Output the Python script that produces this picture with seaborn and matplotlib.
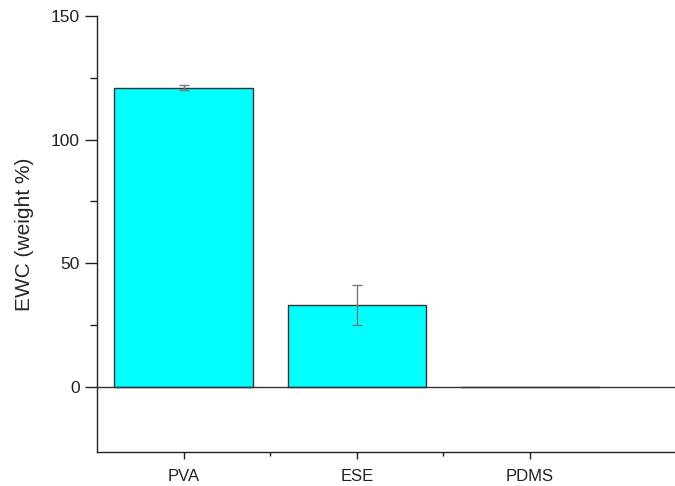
import numpy as np
import pandas as pd
import matplotlib
matplotlib.use("Agg")
import matplotlib.pyplot as plt
import seaborn as sns
from matplotlib.ticker import MultipleLocator, FixedLocator

# data
materials = ["PVA", "ESE", "PDMS"]
ewc = [121.0, 33.0, 0.0]
ewc_err = [1.0, 8.0, 0.0]

df = pd.DataFrame({"material": materials, "ewc": ewc, "err": ewc_err})

sns.set_style("ticks")
plt.rcParams["font.family"] = ["Liberation Sans", "DejaVu Sans"]

fig = plt.figure(figsize=(6.75, 4.86), dpi=100)
ax = fig.add_axes([0.1437, 0.07, 0.857, 0.897])

sns.barplot(data=df, x="material", y="ewc", color="#00ffff", saturation=1,
            edgecolor="#333333", linewidth=1.0, width=0.8, errorbar=None, ax=ax)

# error bars (skip the zero one)
xs = np.arange(len(materials))
mask = (df["err"] > 0).to_numpy()
ax.errorbar(xs[mask], df["ewc"][mask], yerr=df["err"][mask], fmt="none",
            ecolor="#777777", elinewidth=1.0, capsize=3.5, capthick=1.0, zorder=5)

ax.axhline(0, color="#333333", lw=1.0, zorder=4)

ax.set_ylim(-26.5, 150)
ax.set_xlim(-0.5, 2.84)
ax.yaxis.set_major_locator(MultipleLocator(50))
ax.yaxis.set_minor_locator(FixedLocator([25, 75, 125]))
ax.xaxis.set_minor_locator(FixedLocator([0.5, 1.5]))

ax.set_xlabel("")
ax.set_ylabel("EWC (weight %)", fontsize=15, labelpad=12)
ax.tick_params(axis="y", which="major", length=9, width=1, labelsize=12.5, direction="out", colors="#222222")
ax.tick_params(axis="y", which="minor", length=5, width=1, direction="out", color="#222222")
ax.tick_params(axis="x", which="major", length=5, width=1, labelsize=12, pad=7, direction="out", colors="#222222")
ax.tick_params(axis="x", which="minor", length=3, width=1, direction="out", color="#222222")

sns.despine(ax=ax, top=True, right=True)
for s in ["left", "bottom"]:
    ax.spines[s].set_color("#222222")
    ax.spines[s].set_linewidth(1.0)

fig.savefig("out.png", dpi=100)
